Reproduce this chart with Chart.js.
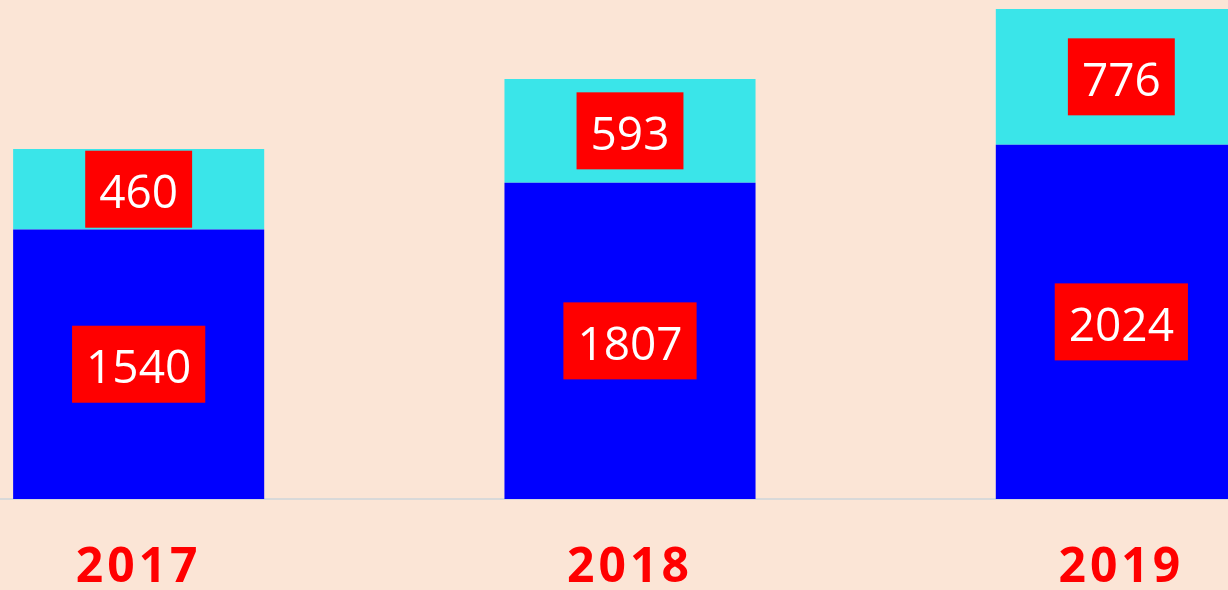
<!DOCTYPE html>
<html>
<head>
<meta charset="utf-8">
<script src="https://cdn.jsdelivr.net/npm/chart.js@4"></script>
<style>
    html, body { margin: 0; padding: 0; width: 1228px; height: 590px; overflow: hidden; background: #FBE5D6; }
    #wrap { position: absolute; left: -107px; top: 0; width: 1474px; height: 637px; }
</style>
</head>
<body>
<div id="wrap"><canvas id="barChart"></canvas></div>
<script>
const years = ['2017', '2018', '2019'];
const lowerValues = [1540, 1807, 2024];
const upperValues = [460, 593, 776];
const yMax = 2851;

// x labels in the picture are letter-spaced, chart.js has no option for that
const spacingPlugin = {
    id: 'spacing',
    beforeDraw(chart) {
        chart.ctx.letterSpacing = '4px';
    },
    afterDraw(chart) {
        chart.ctx.letterSpacing = '0px';
    }
};

// red boxes with the value, centred in each segment
const boxLabels = {
    id: 'boxLabels',
    afterDatasetsDraw(chart) {
        const ctx = chart.ctx;
        ctx.save();
        ctx.letterSpacing = '0px';
        ctx.font = '46px "Open Sans"';
        ctx.textAlign = 'center';
        ctx.textBaseline = 'alphabetic';
        chart.data.datasets.forEach((ds, di) => {
            const meta = chart.getDatasetMeta(di);
            meta.data.forEach((bar, i) => {
                const { x, y, base } = bar.getProps(['x', 'y', 'base'], true);
                const cy = (y + base) / 2;
                const text = String(ds.data[i]);
                const m = ctx.measureText(text);
                const w = m.width + 28;
                const h = 77;
                ctx.fillStyle = '#FF0000';
                ctx.fillRect(x - w / 2, cy - h / 2, w, h);
                const asc = m.actualBoundingBoxAscent;
                ctx.fillStyle = '#FFFFFF';
                ctx.fillText(text, x, cy + asc / 2 + 2);
            });
        });
        ctx.restore();
    }
};

const ctx = document.getElementById('barChart').getContext('2d');
new Chart(ctx, {
    type: 'bar',
    data: {
        labels: years,
        datasets: [
            {
                label: 'lower',
                data: lowerValues,
                backgroundColor: '#0000FF',
                borderWidth: 0,
                categoryPercentage: 1,
                barPercentage: 0.511
            },
            {
                label: 'upper',
                data: upperValues,
                backgroundColor: '#3AE5E9',
                borderWidth: 0,
                categoryPercentage: 1,
                barPercentage: 0.511
            }
        ]
    },
    options: {
        responsive: true,
        maintainAspectRatio: false,
        animation: false,
        layout: { padding: 0 },
        plugins: {
            legend: { display: false },
            tooltip: { enabled: false }
        },
        scales: {
            x: {
                stacked: true,
                grid: { display: false, drawTicks: false },
                border: { display: true, color: '#D9D9D9', width: 2 },
                ticks: {
                    color: '#FF0000',
                    padding: 45,
                    autoSkip: false,
                    maxRotation: 0,
                    font: { family: 'Open Sans', size: 48, weight: 'bold', lineHeight: 1 }
                }
            },
            y: {
                stacked: true,
                display: false,
                min: 0,
                max: yMax
            }
        }
    },
    plugins: [spacingPlugin, boxLabels]
});
</script>
</body>
</html>
